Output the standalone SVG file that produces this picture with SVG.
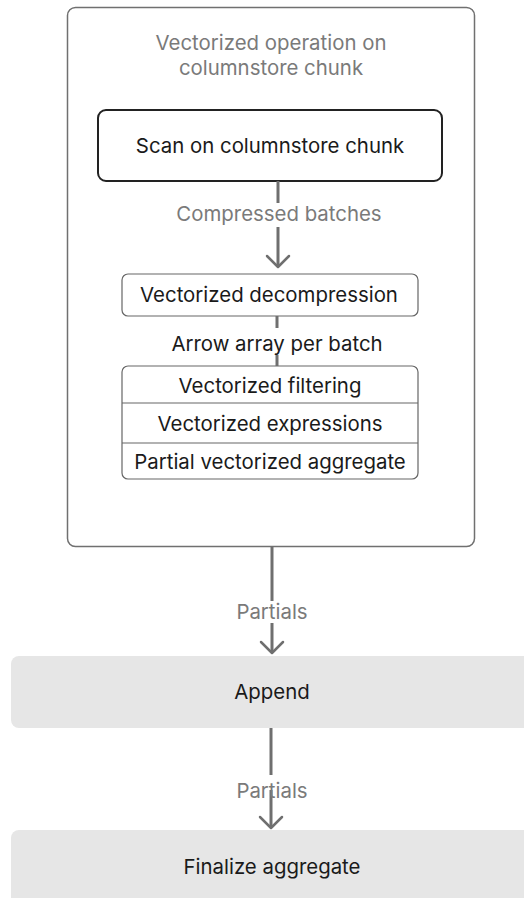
<svg xmlns="http://www.w3.org/2000/svg" width="524" height="898" viewBox="0 0 524 898">
<style>
.t{font-family:Inter,"Liberation Sans",sans-serif;font-size:20.4px;text-anchor:middle;fill:#1a1a1a}
.g{fill:#7a7a7a}
.ln{stroke:#6f6f6f;stroke-width:3;fill:none}
.ah{stroke:#6f6f6f;stroke-width:2.5;fill:none;stroke-linecap:round;stroke-linejoin:round}
</style>
<rect width="524" height="898" fill="#ffffff"/>
<g id="container">
<rect x="67.5" y="7.5" width="407" height="539" rx="8" fill="#ffffff" stroke="#707070" stroke-width="1.5"/>
<text class="t g" x="271" y="50">Vectorized operation on</text>
<text class="t g" x="271" y="75">columnstore chunk</text>
</g>
<g id="scan">
<rect x="98" y="110" width="344" height="71" rx="8" fill="#ffffff" stroke="#222222" stroke-width="2"/>
<text class="t" x="270" y="153">Scan on columnstore chunk</text>
</g>
<g id="decompression">
<rect x="122" y="274" width="296" height="42" rx="6" fill="#ffffff" stroke="#666666" stroke-width="1.2"/>
<text class="t" x="269" y="302">Vectorized decompression</text>
</g>
<g id="ops">
<rect x="122" y="366" width="296" height="113" rx="6" fill="#ffffff" stroke="#666666" stroke-width="1.2"/>
<line x1="122" y1="403" x2="418" y2="403" stroke="#666666" stroke-width="1.2"/>
<line x1="122" y1="443" x2="418" y2="443" stroke="#666666" stroke-width="1.2"/>
<text class="t" x="270" y="393">Vectorized filtering</text>
<text class="t" x="270" y="431">Vectorized expressions</text>
<text class="t" x="270" y="469">Partial vectorized aggregate</text>
</g>
<g id="append">
<rect x="11" y="656" width="530" height="72" rx="8" fill="#e6e6e6"/>
<text class="t" x="272" y="699">Append</text>
</g>
<g id="finalize">
<rect x="11" y="830" width="530" height="90" rx="8" fill="#e6e6e6"/>
<text class="t" x="272" y="874">Finalize aggregate</text>
</g>
<g id="connectors">
<line class="ln" x1="278" y1="181" x2="278" y2="203"/>
<line class="ln" x1="278" y1="227" x2="278" y2="266"/>
<polyline class="ah" points="267,256 278,267 289,256"/>
<text class="t g" x="279" y="221">Compressed batches</text>
<line class="ln" x1="277" y1="316" x2="277" y2="328"/>
<line class="ln" x1="277" y1="355" x2="277" y2="366"/>
<text class="t" x="277" y="351">Arrow array per batch</text>
<line class="ln" x1="272" y1="546" x2="272" y2="601"/>
<line class="ln" x1="272" y1="623" x2="272" y2="652"/>
<polyline class="ah" points="261,642 272,653 283,642"/>
<text class="t g" x="272" y="619">Partials</text>
<line class="ln" x1="271" y1="728" x2="271" y2="775"/>
<line class="ln" x1="271" y1="790" x2="271" y2="827"/>
<polyline class="ah" points="260,817 271,828 282,817"/>
<text class="t g" x="272" y="798">Partials</text>
</g>
</svg>
